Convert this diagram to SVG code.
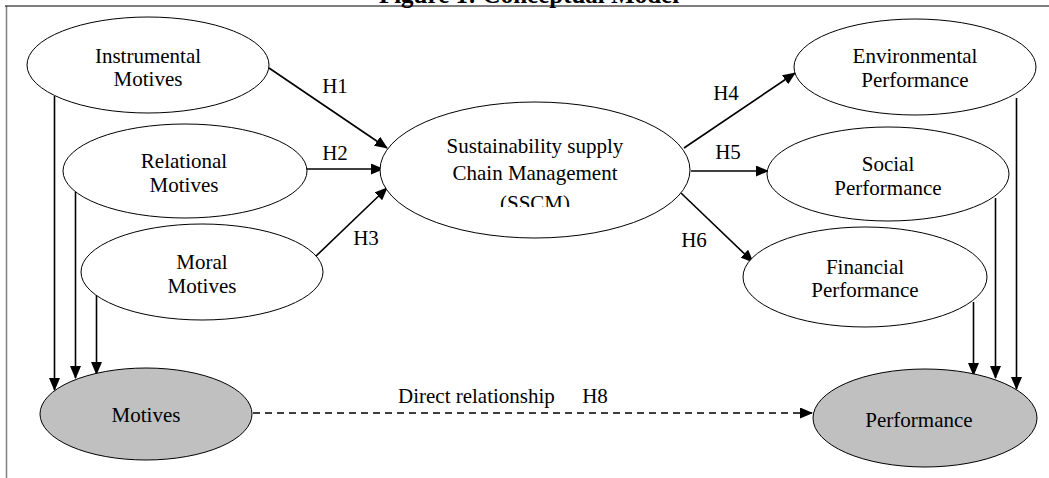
<svg xmlns="http://www.w3.org/2000/svg" width="1049" height="478" viewBox="0 0 1049 478">
<defs>
<style>
.n{fill:#fff;stroke:#000;stroke-width:1}
.g{fill:#c0c0c0;stroke:#000;stroke-width:1}
.t{font-family:"Liberation Serif","Times New Roman",serif;font-size:21px;fill:#000;text-anchor:middle}
.c{stroke:#000;stroke-width:1.6;fill:none;marker-end:url(#ah)}
.d{stroke:#000;stroke-width:1.6;fill:none;stroke-dasharray:7 5;marker-end:url(#ah)}
</style>
<marker id="ah" markerUnits="userSpaceOnUse" markerWidth="13" markerHeight="11" refX="12" refY="5.5" orient="auto">
<path d="M0,0 L13,5.5 L0,11 z" fill="#000"/>
</marker>
<clipPath id="clipS"><rect x="380" y="100" width="320" height="107"/></clipPath>
</defs>
<rect width="1049" height="478" fill="#fff"/>
<g id="title">
<text x="529" y="3" style="font-family:'Liberation Serif','Times New Roman',serif;font-size:25px;font-weight:bold;text-anchor:middle">Figure 1: Conceptual Model</text>
</g>
<g id="frame">
<line x1="6.5" y1="6" x2="6.5" y2="478" stroke="#808080" stroke-width="1.5"/>
<line x1="5" y1="6" x2="1049" y2="6" stroke="#000" stroke-width="1.2"/>
</g>
<g id="connectors">
<line class="c" x1="269" y1="68" x2="387" y2="148"/>
<line class="c" x1="306" y1="169" x2="383" y2="169"/>
<line class="c" x1="314" y1="258" x2="387" y2="188"/>
<line class="c" x1="684" y1="148" x2="795" y2="73"/>
<line class="c" x1="691" y1="171" x2="768" y2="171"/>
<line class="c" x1="681" y1="193" x2="753" y2="262"/>
<line class="c" x1="54.5" y1="96" x2="54.5" y2="390"/>
<line class="c" x1="75.5" y1="192" x2="75.5" y2="378"/>
<line class="c" x1="96.5" y1="295" x2="96.5" y2="374"/>
<line class="c" x1="1016.5" y1="98" x2="1016.5" y2="389"/>
<line class="c" x1="995.5" y1="198" x2="995.5" y2="378"/>
<line class="c" x1="973.5" y1="302" x2="973.5" y2="375"/>
<line class="d" x1="253" y1="413" x2="812" y2="413"/>
<text class="t" x="335" y="93">H1</text>
<text class="t" x="335" y="160">H2</text>
<text class="t" x="366" y="245">H3</text>
<text class="t" x="726" y="100">H4</text>
<text class="t" x="728" y="159">H5</text>
<text class="t" x="694" y="247">H6</text>
<text class="t" x="398" y="403" style="text-anchor:start">Direct relationship</text>
<text class="t" x="595" y="403">H8</text>
</g>
<g id="instrumental">
<ellipse class="n" cx="148" cy="65" rx="121" ry="48"/>
<text class="t" x="148" y="63">Instrumental</text>
<text class="t" x="148" y="86">Motives</text>
</g>
<g id="relational">
<ellipse class="n" cx="185" cy="171" rx="122" ry="47"/>
<text class="t" x="184" y="168">Relational</text>
<text class="t" x="184" y="192">Motives</text>
</g>
<g id="moral">
<ellipse class="n" cx="202" cy="272" rx="121" ry="48"/>
<text class="t" x="202" y="269">Moral</text>
<text class="t" x="202" y="293">Motives</text>
</g>
<g id="motives">
<ellipse class="g" cx="146" cy="414" rx="106" ry="46"/>
<text class="t" x="146" y="422">Motives</text>
</g>
<g id="sscm">
<ellipse class="n" cx="535" cy="170" rx="155" ry="68"/>
<g clip-path="url(#clipS)">
<text class="t" x="535" y="153">Sustainability supply</text>
<text class="t" x="535" y="180">Chain Management</text>
<text class="t" x="535" y="210">(SSCM)</text>
</g>
</g>
<g id="environmental">
<ellipse class="n" cx="915" cy="67" rx="121" ry="48"/>
<text class="t" x="915" y="63">Environmental</text>
<text class="t" x="915" y="87">Performance</text>
</g>
<g id="social">
<ellipse class="n" cx="888" cy="174" rx="121" ry="47"/>
<text class="t" x="888" y="171">Social</text>
<text class="t" x="888" y="195">Performance</text>
</g>
<g id="financial">
<ellipse class="n" cx="865" cy="277" rx="122" ry="50"/>
<text class="t" x="865" y="274">Financial</text>
<text class="t" x="865" y="297">Performance</text>
</g>
<g id="performance">
<ellipse class="g" cx="925" cy="418" rx="112" ry="49"/>
<text class="t" x="919" y="427">Performance</text>
</g>
</svg>
